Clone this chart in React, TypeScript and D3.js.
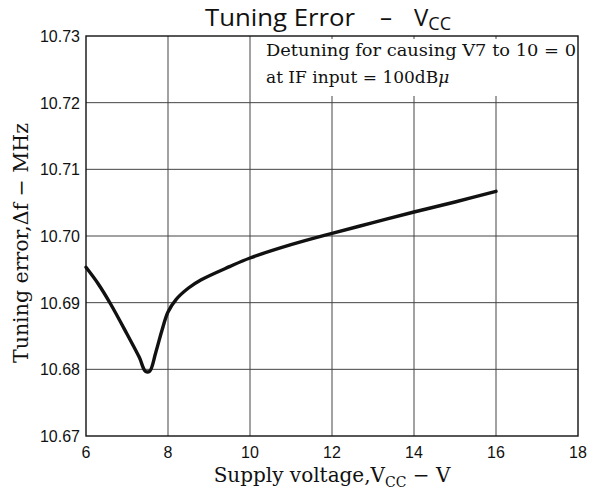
import React from "react";
import * as d3 from "d3";

const vcc = [6, 6.3, 6.6, 7.0, 7.3, 7.45, 7.55, 7.7, 7.85, 8.0, 8.2, 8.5, 8.8, 9.5, 10, 11, 12, 13, 14, 15, 16];
const tuningErr = [10.6953, 10.6928, 10.6898, 10.6853, 10.6818, 10.6797, 10.6797, 10.6825, 10.6858, 10.6886, 10.6905, 10.6922, 10.6934, 10.6954, 10.6967, 10.6987, 10.7004, 10.702, 10.7036, 10.7051, 10.7067];
const xTicks = [6, 8, 10, 12, 14, 16, 18];
const yTicks = [10.67, 10.68, 10.69, 10.7, 10.71, 10.72, 10.73];
const yTickLabels = ["10.67", "10.68", "10.69", "10.70", "10.71", "10.72", "10.73"];

const W = 594, H = 491;
const L = 86, R = 578, T = 36, B = 436;

export default function App() {
  const x = d3.scaleLinear().domain([6, 18]).range([L, R]);
  const y = d3.scaleLinear().domain([10.67, 10.73]).range([B, T]);
  const pts = vcc.map((v, i) => [v, tuningErr[i]] as [number, number]);
  const line = d3.line<[number, number]>().x(d => x(d[0])).y(d => y(d[1])).curve(d3.curveCatmullRom.alpha(0.5));
  const serif = "'DejaVu Serif', serif";
  const sans = "'Liberation Sans', Arial, sans-serif";
  const annX = 266;
  return (
    <svg width={W} height={H} style={{ position: "absolute", left: 0, top: 0, background: "#fff" }}>
      <rect x={0} y={0} width={W} height={H} fill="#fff" />
      {xTicks.slice(1, -1).map(t => (
        <line key={"vx" + t} x1={x(t)} x2={x(t)} y1={T} y2={B} stroke="#444" strokeWidth={1} />
      ))}
      {yTicks.slice(1, -1).map(t => (
        <line key={"hy" + t} x1={L} x2={R} y1={y(t)} y2={y(t)} stroke="#444" strokeWidth={1} />
      ))}
      <rect x={annX - 6} y={39} width={R - annX + 4} height={57} fill="#fff" />
      <rect x={L} y={T} width={R - L} height={B - T} fill="none" stroke="#111" strokeWidth={1.4} />
      <path d={line(pts) || ""} fill="none" stroke="#111" strokeWidth={3.4} strokeLinejoin="round" strokeLinecap="round" />
      {yTicks.map((t, i) => (
        <text key={"yl" + t} x={80} y={y(t) + 6} textAnchor="end" fontFamily={sans} fontSize={16} fill="#111">{yTickLabels[i]}</text>
      ))}
      {xTicks.map(t => (
        <text key={"xl" + t} x={x(t)} y={458} textAnchor="middle" fontFamily={sans} fontSize={16} fill="#111">{t}</text>
      ))}
      <g fontFamily="'Open Sans', sans-serif" fill="#111">
        <text x={205} y={26} fontSize={24} textLength={150} lengthAdjust="spacingAndGlyphs">Tuning Error</text>
        <text x={380} y={26} fontSize={24}>–</text>
        <text x={414} y={26} fontSize={24}>V<tspan fontSize={18} dy={4}>CC</tspan></text>
      </g>
      <text x={332} y={482} textAnchor="middle" fontFamily={serif} fontSize={20} fill="#111">
        Supply voltage,V<tspan fontSize={14} dy={5}>CC</tspan><tspan dy={-5}> − V</tspan>
      </text>
      <text transform={`translate(28,243) rotate(-90)`} textAnchor="middle" fontFamily={serif} fontSize={20} fill="#111" textLength={240} lengthAdjust="spacingAndGlyphs">
        Tuning error,Δf − MHz
      </text>
      <text x={annX} y={56} fontFamily={serif} fontSize={17} fill="#111" textLength={R - 2 - annX} lengthAdjust="spacingAndGlyphs">Detuning for causing V7 to 10 = 0</text>
      <text x={annX} y={83} fontFamily={serif} fontSize={17} fill="#111">at IF input = 100dB<tspan fontStyle="italic">μ</tspan></text>
    </svg>
  );
}
